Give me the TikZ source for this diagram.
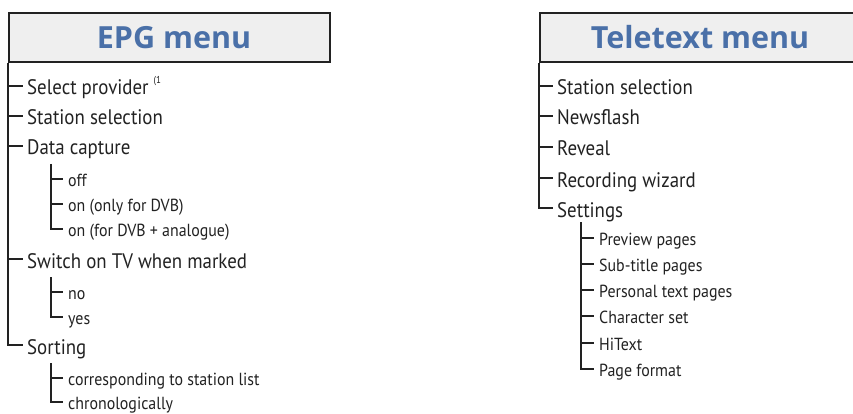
\documentclass[tikz,border=0pt]{standalone}
\usepackage{fontspec}
\setmainfont{PT Sans}[FakeStretch=0.9]
\newfontfamily\subfont{PT Sans}[FakeStretch=0.91]
\newfontfamily\titlefont{Open Sans}
\definecolor{ink}{HTML}{222222}
\definecolor{titleblue}{HTML}{4A70A8}
\definecolor{boxfill}{HTML}{EFEFEF}
\tikzset{
  menubox/.style={draw=ink, line width=2pt, fill=boxfill, anchor=north west, inner sep=0pt},
  menutitle/.style={anchor=base, text=titleblue, font=\titlefont\bfseries\fontsize{30.5}{30}\selectfont, inner sep=0pt},
  mainitem/.style={anchor=west, text=ink, font=\fontsize{21}{21}\selectfont, inner xsep=4pt, inner ysep=0pt, text height=18pt, text depth=0pt},
  subitem/.style={anchor=west, text=ink, font=\subfont\fontsize{17.5}{17.5}\selectfont, inner xsep=5pt, inner ysep=0pt, text height=14pt, text depth=0pt},
  tree/.style={draw=ink, line width=1.2pt}
}
\begin{document}
\begin{tikzpicture}[x=1pt,y=-1pt]
\clip (0,0) rectangle (853,414);
\fill[white] (0,0) rectangle (853,414);
% EPG menu
\node[menubox, minimum width=321pt, minimum height=49pt] (epg) at (8,12) {};
\node[menutitle] (epgtitle) at (174,49) {EPG menu};
\node[mainitem] (e1) at (23,86) {Select provider \raisebox{0.55em}{\fontsize{10}{10}\selectfont(1}};
\node[mainitem] (e2) at (23,116) {Station selection};
\node[mainitem] (e3) at (23,146) {Data capture};
\node[subitem] (e31) at (63,179) {off};
\node[subitem] (e32) at (63,204) {on (only for DVB)};
\node[subitem] (e33) at (63,229) {on (for DVB + analogue)};
\node[mainitem] (e4) at (23,259) {Switch on TV when marked};
\node[subitem] (e41) at (63,292) {no};
\node[subitem] (e42) at (63,317) {yes};
\node[mainitem] (e5) at (23,345) {Sorting};
\node[subitem] (e51) at (63,378) {corresponding to station list};
\node[subitem] (e52) at (63,402) {chronologically};
\coordinate (etrunk) at (epg.south west);
\coordinate (e3trunk) at (51,164);
\coordinate (e4trunk) at (51,277);
\coordinate (e5trunk) at (51,363);
\draw[tree] (etrunk) |- (e5.west);
\foreach \n in {e1,e2,e3,e4} \draw[tree] (\n.west -| etrunk) -- (\n.west);
\draw[tree] (e3trunk) |- (e33.west);
\foreach \n in {e31,e32} \draw[tree] (\n.west -| e3trunk) -- (\n.west);
\draw[tree] (e4trunk) |- (e42.west);
\draw[tree] (e41.west -| e4trunk) -- (e41.west);
\draw[tree] (e5trunk) |- (e52.west);
\draw[tree] (e51.west -| e5trunk) -- (e51.west);
% Teletext menu
\node[menubox, minimum width=321pt, minimum height=49pt] (ttx) at (539,12) {};
\node[menutitle] (ttxtitle) at (700,49) {Teletext menu};
\node[mainitem] (t1) at (553,86) {Station selection};
\node[mainitem] (t2) at (553,116) {Newsflash};
\node[mainitem] (t3) at (553,147) {Reveal};
\node[mainitem] (t4) at (553,178) {Recording wizard};
\node[mainitem] (t5) at (553,208) {Settings};
\node[subitem] (t51) at (594,238) {Preview pages};
\node[subitem] (t52) at (594,264) {Sub-title pages};
\node[subitem] (t53) at (594,290) {Personal text pages};
\node[subitem] (t54) at (594,316) {Character set};
\node[subitem] (t55) at (594,343) {HiText};
\node[subitem] (t56) at (594,369) {Page format};
\coordinate (ttrunk) at (ttx.south west);
\coordinate (t5trunk) at (581,222);
\draw[tree] (ttrunk) |- (t5.west);
\foreach \n in {t1,t2,t3,t4} \draw[tree] (\n.west -| ttrunk) -- (\n.west);
\draw[tree] (t5trunk) |- (t56.west);
\foreach \n in {t51,t52,t53,t54,t55} \draw[tree] (\n.west -| t5trunk) -- (\n.west);
\end{tikzpicture}
\end{document}
